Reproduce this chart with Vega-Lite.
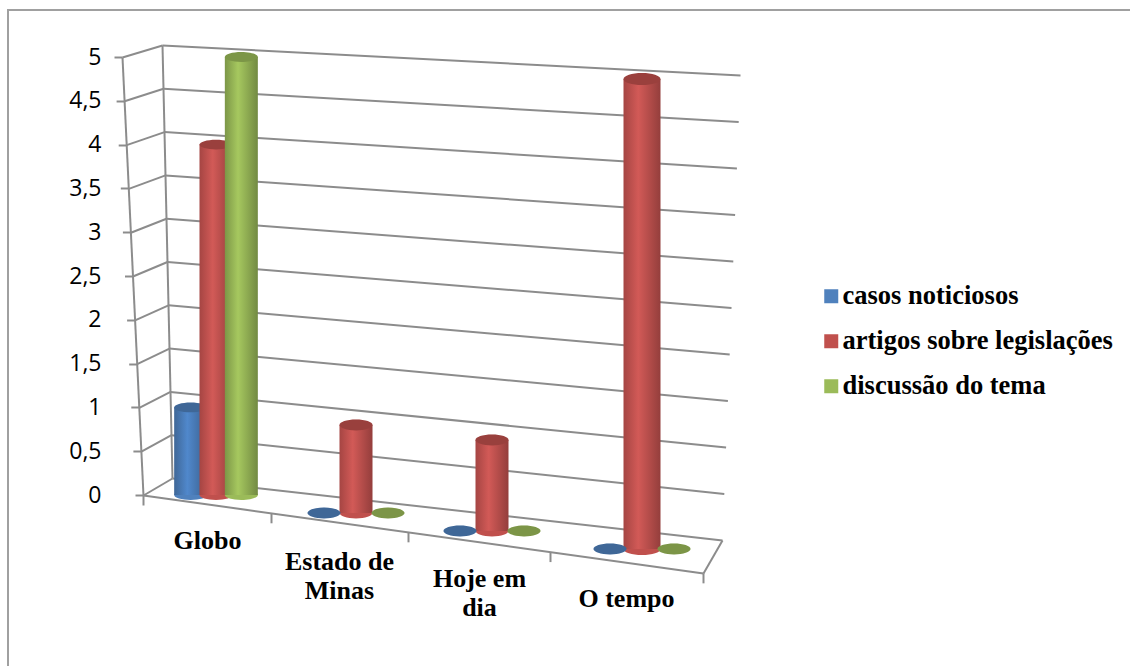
{
"$schema":"https://vega.github.io/schema/vega-lite/v6.json",
"autosize":"none","padding":{"left":8,"top":10,"right":0,"bottom":0},
"width":1135,"height":670,"background":"white",
"view":{"stroke":"#a0a0a0","strokeWidth":2,"fill":"white"},
"config":{"legend":{"orient":"none","legendX":810,"legendY":273,"symbolType":"square","symbolSize":196,"symbolStrokeWidth":0,"labelFont":"Liberation Serif","labelFontWeight":"bold","labelFontSize":26.5,"labelColor":"black","labelLimit":400,"rowPadding":18,"labelOffset":-2}},
"datasets":{
"linhas":[{"jornal":"Globo","serie":"casos noticiosos","valor":1},{"jornal":"Globo","serie":"artigos sobre legislações","valor":4},{"jornal":"Globo","serie":"discussão do tema","valor":5},
{"jornal":"Estado de Minas","serie":"casos noticiosos","valor":0},{"jornal":"Estado de Minas","serie":"artigos sobre legislações","valor":1},{"jornal":"Estado de Minas","serie":"discussão do tema","valor":0},
{"jornal":"Hoje em dia","serie":"casos noticiosos","valor":0},{"jornal":"Hoje em dia","serie":"artigos sobre legislações","valor":1},{"jornal":"Hoje em dia","serie":"discussão do tema","valor":0},
{"jornal":"O tempo","serie":"casos noticiosos","valor":0},{"jornal":"O tempo","serie":"artigos sobre legislações","valor":5},{"jornal":"O tempo","serie":"discussão do tema","valor":0}],
"marcas":[{"v":0},{"v":0.5},{"v":1},{"v":1.5},{"v":2},{"v":2.5},{"v":3},{"v":3.5},{"v":4},{"v":4.5},{"v":5}]
},
"resolve":{"scale":{"y":"independent","xOffset":"independent"},"axis":{"y":"independent"}},
"layer":[
{"data":{"name":"marcas"},"mark":{"type":"rule","opacity":0},
 "encoding":{"y":{"field":"v","type":"quantitative","scale":{"domain":[0,5],"range":[485,47]},
  "axis":{"title":null,"orient":"left","grid":true,"gridColor":"#8c8c8c","gridWidth":2,"values":[0,0.5,1,1.5,2,2.5,3,3.5,4,4.5,5],"offset":-122,"tickSize":8,"tickColor":"#8c8c8c","tickWidth":2,"labelPadding":21,"labelFont":"Open Sans","labelFontSize":23,"labelColor":"black","labelExpr":"replace(format(datum.value,'~g'),'.',',')","domainColor":"#8c8c8c","domainWidth":2,
  "encoding":{
   "grid":{"x":{"value":{"expr":"42-2*datum.value"}},"x2":{"value":{"expr":"592+3.6*datum.value"}},"y":{"value":{"expr":"468-86.6*datum.value"}},"y2":{"value":{"expr":"530-93*datum.value"}}},
   "domain":{"x":{"value":-8},"x2":{"value":13},"y":{"value":47},"y2":{"value":485}},
   "ticks":{"x":{"value":{"expr":"13-4.2*datum.value"}},"x2":{"value":{"expr":"5-4.2*datum.value"}}}
  }}}}},
{"data":{"name":"marcas"},"mark":{"type":"rule","opacity":0},
 "encoding":{"y":{"field":"v","type":"quantitative","scale":{"domain":[0,5],"range":[485,47]},
  "axis":{"title":null,"orient":"left","grid":true,"gridColor":"#8c8c8c","gridWidth":2,"labels":false,"ticks":false,"domainColor":"#8c8c8c","domainWidth":2,"values":[0,0.5,1,1.5,2,2.5,3,3.5,4,4.5,5],
  "encoding":{
   "domain":{"x":{"value":154},"x2":{"value":164},"y":{"value":35},"y2":{"value":468}},
   "grid":{"x":{"value":{"expr":"135-4.2*datum.value"}},"x2":{"value":{"expr":"164-2*datum.value"}},"y":{"value":{"expr":"485-87.6*datum.value"}},"y2":{"value":{"expr":"468-86.6*datum.value"}}}}}}}},
{"data":{"name":"marcas"},"mark":{"type":"rule","opacity":0},
 "encoding":{"y":{"field":"v","type":"quantitative","scale":{"domain":[0,5],"range":[485,47]},
  "axis":{"title":null,"orient":"left","grid":false,"labels":false,"ticks":false,"domainColor":"#8c8c8c","domainWidth":2,
  "encoding":{"domain":{"x":{"value":695},"x2":{"value":714},"y":{"value":563},"y2":{"value":530}}}}}}},
{"data":{"name":"linhas"},"transform":[{"filter":"datum.jornal=='Globo'"}],
 "encoding":{"x":{"field":"jornal","type":"nominal","sort":null,"scale":{"domain":["Globo","Estado de Minas","Hoje em dia","O tempo"],"range":[138,698],"paddingInner":0,"paddingOuter":0},
   "axis":{"title":null,"offset":-185,"labelAngle":0,"tickBand":"extent","labelFont":"Liberation Serif","labelFontWeight":"bold","labelFontSize":26,"labelColor":"black","labelLineHeight":29,"labelBaseline":"top","labelPadding":22,"labelLimit":300,"tickColor":"#8c8c8c","tickWidth":2,"domainColor":"#8c8c8c","domainWidth":2,
   "labelExpr":"datum.label=='Estado de Minas'?['Estado de','Minas']:datum.label=='Hoje em dia'?['Hoje em','dia']:datum.label",
   "encoding":{
    "domain":{"x":{"value":135},"x2":{"value":695},"y":{"value":0},"y2":{"value":78}},
    "ticks":{
     "x":{"value":{"expr":"135+(datum.extra?0:datum.value=='Globo'?128:datum.value=='Estado de Minas'?265:datum.value=='Hoje em dia'?407:560)"}},
     "y":{"value":{"expr":"(datum.extra?0:datum.value=='Globo'?128:datum.value=='Estado de Minas'?265:datum.value=='Hoje em dia'?407:560)*0.139"}},
     "y2":{"value":{"expr":"10+(datum.extra?0:datum.value=='Globo'?128:datum.value=='Estado de Minas'?265:datum.value=='Hoje em dia'?407:560)*0.139"}}},
    "labels":{"dx":{"value":{"expr":"datum.value=='Globo'?-9:datum.value=='O tempo'?-10:-17"}},"dy":{"value":{"expr":"datum.value=='Globo'?5:datum.value=='Estado de Minas'?26:datum.value=='Hoje em dia'?43:63"}}}
   }}},
  "xOffset":{"field":"serie","type":"nominal","sort":null,"scale":{"domain":["casos noticiosos","artigos sobre legislações","discussão do tema"],"range":[32,108]}},
  "y":{"field":"valor","type":"quantitative","scale":{"domain":[0,5],"range":[485,47]},"axis":null}},
 "layer":[
  {"transform":[{"filter":"datum.serie=='casos noticiosos'"}],"layer":[
   {"mark":{"type":"point","filled":true,"opacity":1,"size":1089,"shape":"M-1,0A1,0.3,0,1,1,1,0A1,0.3,0,1,1,-1,0Z"},
    "encoding":{"y":{"datum":0},"color":{"field":"serie","type":"nominal","title":null,"sort":null,"scale":{"domain":["casos noticiosos","artigos sobre legislações","discussão do tema"],"range":["#4F81BD","#C0504D","#9BBB59"]}}}},
   {"mark":{"type":"bar","size":33,"color":{"gradient":"linear","x1":0,"x2":1,"y1":0,"y2":0,"stops":[{"offset":0,"color":"#3F6797"},{"offset":0.4,"color":"#5088CC"},{"offset":1,"color":"#3A5F8C"}]}}},
   {"mark":{"type":"point","filled":true,"opacity":1,"color":"#3F6797","size":1089,"shape":"M-1,0A1,0.3,0,1,1,1,0A1,0.3,0,1,1,-1,0Z"}}
  ]},
  {"transform":[{"filter":"datum.serie=='artigos sobre legislações'"}],"layer":[
   {"mark":{"type":"point","filled":true,"opacity":1,"size":1089,"shape":"M-1,0A1,0.3,0,1,1,1,0A1,0.3,0,1,1,-1,0Z"},
    "encoding":{"y":{"datum":0},"color":{"field":"serie","type":"nominal","title":null}}},
   {"mark":{"type":"bar","size":33,"color":{"gradient":"linear","x1":0,"x2":1,"y1":0,"y2":0,"stops":[{"offset":0,"color":"#A54543"},{"offset":0.4,"color":"#D25A57"},{"offset":1,"color":"#943E3C"}]}}},
   {"mark":{"type":"point","filled":true,"opacity":1,"color":"#9A403D","size":1089,"shape":"M-1,0A1,0.3,0,1,1,1,0A1,0.3,0,1,1,-1,0Z"}}
  ]},
  {"transform":[{"filter":"datum.serie=='discussão do tema'"}],"layer":[
   {"mark":{"type":"point","filled":true,"opacity":1,"size":1089,"shape":"M-1,0A1,0.3,0,1,1,1,0A1,0.3,0,1,1,-1,0Z"},
    "encoding":{"y":{"datum":0},"color":{"field":"serie","type":"nominal","title":null}}},
   {"mark":{"type":"bar","size":33,"color":{"gradient":"linear","x1":0,"x2":1,"y1":0,"y2":0,"stops":[{"offset":0,"color":"#7C9647"},{"offset":0.4,"color":"#A6C85F"},{"offset":1,"color":"#728A42"}]}}},
   {"mark":{"type":"point","filled":true,"opacity":1,"color":"#7C9647","size":1089,"shape":"M-1,0A1,0.3,0,1,1,1,0A1,0.3,0,1,1,-1,0Z"}}
  ]}
 ]},
{"data":{"name":"linhas"},"transform":[{"filter":"datum.jornal=='Estado de Minas'"}],
 "encoding":{"x":{"field":"jornal","type":"nominal"},"xOffset":{"field":"serie","type":"nominal","sort":null,"scale":{"domain":["casos noticiosos","artigos sobre legislações","discussão do tema"],"range":[22,118]}},
  "y":{"field":"valor","type":"quantitative","scale":{"domain":[0,5],"range":[503,63]},"axis":null}},
 "layer":[
  {"transform":[{"filter":"datum.valor>0"}],"mark":{"type":"point","filled":true,"opacity":1,"size":1089,"shape":"M-1,0A1,0.33,0,1,1,1,0A1,0.33,0,1,1,-1,0Z"},"encoding":{"y":{"datum":0},"color":{"field":"serie","type":"nominal","title":null}}},
  {"transform":[{"filter":"datum.valor>0"}],"mark":{"type":"bar","size":33,"color":{"gradient":"linear","x1":0,"x2":1,"y1":0,"y2":0,"stops":[{"offset":0,"color":"#A54543"},{"offset":0.4,"color":"#D25A57"},{"offset":1,"color":"#943E3C"}]}}},
  {"mark":{"type":"point","filled":true,"opacity":1,"size":1089,"shape":"M-1,0A1,0.33,0,1,1,1,0A1,0.33,0,1,1,-1,0Z"},"encoding":{"color":{"field":"serie","type":"nominal","title":null}}},
  {"mark":{"type":"point","filled":true,"opacity":0.2,"color":"black","size":1089,"shape":"M-1,0A1,0.33,0,1,1,1,0A1,0.33,0,1,1,-1,0Z"}}
 ]},
{"data":{"name":"linhas"},"transform":[{"filter":"datum.jornal=='Hoje em dia'"}],
 "encoding":{"x":{"field":"jornal","type":"nominal"},"xOffset":{"field":"serie","type":"nominal","sort":null,"scale":{"domain":["casos noticiosos","artigos sobre legislações","discussão do tema"],"range":[18,114]}},
  "y":{"field":"valor","type":"quantitative","scale":{"domain":[0,5],"range":[521,66]},"axis":null}},
 "layer":[
  {"transform":[{"filter":"datum.valor>0"}],"mark":{"type":"point","filled":true,"opacity":1,"size":1089,"shape":"M-1,0A1,0.33,0,1,1,1,0A1,0.33,0,1,1,-1,0Z"},"encoding":{"y":{"datum":0},"color":{"field":"serie","type":"nominal","title":null}}},
  {"transform":[{"filter":"datum.valor>0"}],"mark":{"type":"bar","size":33,"color":{"gradient":"linear","x1":0,"x2":1,"y1":0,"y2":0,"stops":[{"offset":0,"color":"#A54543"},{"offset":0.4,"color":"#D25A57"},{"offset":1,"color":"#943E3C"}]}}},
  {"mark":{"type":"point","filled":true,"opacity":1,"size":1089,"shape":"M-1,0A1,0.33,0,1,1,1,0A1,0.33,0,1,1,-1,0Z"},"encoding":{"color":{"field":"serie","type":"nominal","title":null}}},
  {"mark":{"type":"point","filled":true,"opacity":0.2,"color":"black","size":1089,"shape":"M-1,0A1,0.33,0,1,1,1,0A1,0.33,0,1,1,-1,0Z"}}
 ]},
{"data":{"name":"linhas"},"transform":[{"filter":"datum.jornal=='O tempo'"}],
 "encoding":{"x":{"field":"jornal","type":"nominal"},"xOffset":{"field":"serie","type":"nominal","sort":null,"scale":{"domain":["casos noticiosos","artigos sobre legislações","discussão do tema"],"range":[28,124]}},
  "y":{"field":"valor","type":"quantitative","scale":{"domain":[0,5],"range":[539,69]},"axis":null}},
 "layer":[
  {"transform":[{"filter":"datum.valor>0"}],"mark":{"type":"point","filled":true,"opacity":1,"size":1369,"shape":"M-1,0A1,0.33,0,1,1,1,0A1,0.33,0,1,1,-1,0Z"},"encoding":{"y":{"datum":0},"color":{"field":"serie","type":"nominal","title":null}}},
  {"transform":[{"filter":"datum.valor>0"}],"mark":{"type":"bar","size":37,"color":{"gradient":"linear","x1":0,"x2":1,"y1":0,"y2":0,"stops":[{"offset":0,"color":"#A54543"},{"offset":0.4,"color":"#D25A57"},{"offset":1,"color":"#943E3C"}]}}},
  {"transform":[{"filter":"datum.valor>0"}],"mark":{"type":"point","filled":true,"opacity":1,"color":"#9A403D","size":1369,"shape":"M-1,0A1,0.33,0,1,1,1,0A1,0.33,0,1,1,-1,0Z"}},
  {"transform":[{"filter":"datum.valor==0"}],"mark":{"type":"point","filled":true,"opacity":1,"size":1089,"shape":"M-1,0A1,0.33,0,1,1,1,0A1,0.33,0,1,1,-1,0Z"},"encoding":{"color":{"field":"serie","type":"nominal","title":null}}},
  {"transform":[{"filter":"datum.valor==0"}],"mark":{"type":"point","filled":true,"opacity":0.2,"color":"black","size":1089,"shape":"M-1,0A1,0.33,0,1,1,1,0A1,0.33,0,1,1,-1,0Z"}}
 ]}
]}
